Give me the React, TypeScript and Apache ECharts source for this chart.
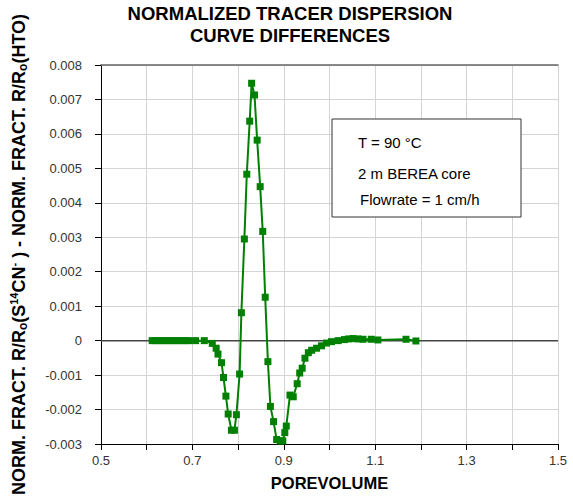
import React, { useEffect, useRef } from "react";
import * as echarts from "echarts";

const titleLines = ["NORMALIZED TRACER DISPERSION", "CURVE DIFFERENCES"];
const xName = "POREVOLUME";
const infoLines = ["T = 90 °C", "2 m BEREA core", "Flowrate = 1 cm/h"];

const porevolume = [
  0.612, 0.62, 0.628, 0.636, 0.644, 0.652, 0.66, 0.668, 0.676, 0.684, 0.692,
  0.707, 0.726, 0.7435, 0.752, 0.756, 0.7637, 0.768, 0.7733, 0.7783, 0.7854,
  0.792, 0.7963, 0.8033, 0.8072, 0.8137, 0.819, 0.8254, 0.8296, 0.8359, 0.8417,
  0.8483, 0.8539, 0.8593, 0.8652, 0.8707, 0.8776, 0.8843, 0.892, 0.8978, 0.9022,
  0.9054, 0.9135, 0.9207, 0.9293, 0.9348, 0.9402, 0.9463, 0.9537, 0.9609,
  0.9717, 0.9826, 0.9935, 1.0043, 1.0189, 1.0326, 1.042, 1.0515, 1.062, 1.0733,
  1.0913, 1.1059, 1.1674, 1.1891,
];
const difference = [
  0, 0, 0, 0, 0, 0, 0, 0, 0, 0, 0,
  0, 0, -0.00008, -0.00022, -0.00039, -0.00064, -0.00107, -0.00161, -0.00213, -0.0026,
  -0.0026, -0.00215, -0.00097, 0.00081, 0.00295, 0.00483, 0.00637, 0.00747, 0.00713, 0.00582,
  0.00447, 0.00317, 0.00126, -0.00061, -0.00191, -0.00235, -0.00287, -0.00291, -0.00291, -0.00267,
  -0.00248, -0.00158, -0.00163, -0.00125, -0.00094, -0.0008, -0.00051, -0.00035, -0.00028,
  -0.00022, -0.00015, -0.00007, -0.00003, 0, 0.00003, 0.00005, 0.00006, 0.00005, 0.00004,
  0.00004, 0.00002, 0.00004, -0.00001,
];

const xMin = 0.5, xMax = 1.5, xStep = 0.1;
const yMin = -0.003, yMax = 0.008, yStep = 0.001;

const FONT = "'Liberation Sans', Arial, sans-serif";

export default function App() {
  const ref = useRef<HTMLDivElement>(null);
  useEffect(() => {
    document.body.style.margin = "0";
    if (!ref.current) return;
    const chart = echarts.init(ref.current, null, { renderer: "svg" });
    const data = porevolume.map((x, i) => [x, difference[i]]);
    chart.setOption({
      animation: false,
      backgroundColor: "#ffffff",
      textStyle: { fontFamily: FONT },
      grid: { left: 98, right: 15, top: 65, bottom: 57 },
      xAxis: [
        {
          type: "value",
          min: xMin,
          max: xMax,
          interval: xStep,
          name: xName,
          nameLocation: "middle",
          nameGap: 30,
          nameTextStyle: { fontFamily: FONT, fontSize: 16.5, fontWeight: "bold", color: "#000" },
          axisLine: { show: true, onZero: false, lineStyle: { color: "#000", width: 1 } },
          axisTick: { show: true, length: 6, lineStyle: { color: "#000" } },
          axisLabel: {
            margin: 10,
            fontFamily: FONT,
            fontSize: 13,
            color: "#333",
            formatter: (v: number) => {
              const k = Math.round((v - xMin) / xStep);
              return k % 2 === 0 ? v.toFixed(1) : "";
            },
          },
          splitLine: { show: true, lineStyle: { color: "#d4d4d4", width: 1 } },
        },
        {
          type: "value",
          position: "top",
          min: xMin,
          max: xMax,
          axisLine: { show: true, onZero: false, lineStyle: { color: "#666", width: 1.5 } },
          axisTick: { show: false },
          axisLabel: { show: false },
          splitLine: { show: false },
        },
      ],
      yAxis: {
        type: "value",
        min: yMin,
        max: yMax,
        interval: yStep,
        name:
          "{b|NORM. FRACT. R/R}{s|o}{b|(S}{p|14}{b|CN}{p|-}{b| ) - NORM. FRACT. R/R}{s|o}{b|(HTO)}",
        nameLocation: "middle",
        nameGap: 72,
        nameTextStyle: {
          fontFamily: FONT,
          fontWeight: "bold",
          color: "#000",
          rich: {
            b: { fontFamily: FONT, fontSize: 18, fontWeight: "bold", color: "#000" },
            s: { fontFamily: FONT, fontSize: 12, fontWeight: "bold", color: "#000", padding: [9, 0, 0, 0] },
            p: { fontFamily: FONT, fontSize: 11, fontWeight: "bold", color: "#000", padding: [0, 0, 10, 0] },
          },
        },
        axisLine: { show: true, onZero: false, lineStyle: { color: "#000", width: 1 } },
        axisTick: { show: true, length: 6, lineStyle: { color: "#000" } },
        axisLabel: {
          margin: 19,
          fontFamily: FONT,
          fontSize: 13,
          color: "#333",
          formatter: (v: number) => (Math.abs(v) < 1e-9 ? "0" : v.toFixed(3)),
        },
        splitLine: { show: true, lineStyle: { color: "#d4d4d4", width: 1 } },
      },
      graphic: [
        {
          type: "text",
          x: 290,
          y: 13,
          style: {
            text: titleLines[0],
            font: `bold 18.5px ${FONT}`,
            fill: "#000",
            textAlign: "center",
            textVerticalAlign: "middle",
          },
        },
        {
          type: "text",
          x: 290,
          y: 35,
          style: {
            text: titleLines[1],
            font: `bold 18.5px ${FONT}`,
            fill: "#000",
            textAlign: "center",
            textVerticalAlign: "middle",
          },
        },
        {
          type: "rect",
          shape: { x: 332, y: 119, width: 189, height: 98 },
          style: { fill: "#fff", stroke: "#333", lineWidth: 1 },
          z: 10,
        },
        {
          type: "text",
          x: 358,
          y: 142,
          style: { text: infoLines[0], font: `15px ${FONT}`, fill: "#000", textVerticalAlign: "middle" },
          z: 11,
        },
        {
          type: "text",
          x: 358,
          y: 173,
          style: { text: infoLines[1], font: `15px ${FONT}`, fill: "#000", textVerticalAlign: "middle" },
          z: 11,
        },
        {
          type: "text",
          x: 360,
          y: 199,
          style: { text: infoLines[2], font: `15px ${FONT}`, fill: "#000", textVerticalAlign: "middle" },
          z: 11,
        },
      ],
      series: [
        {
          type: "line",
          data: [
            [xMin, 0],
            [xMax, 0],
          ],
          symbol: "none",
          silent: true,
          lineStyle: { color: "#444", width: 1.5 },
          z: 1,
        },
        {
          type: "line",
          data,
          symbol: "rect",
          symbolSize: 7,
          itemStyle: { color: "#008000" },
          lineStyle: { color: "#008000", width: 2 },
          z: 2,
        },
      ],
    });
    return () => chart.dispose();
  }, []);
  return <div ref={ref} style={{ width: 573, height: 501 }} />;
}
